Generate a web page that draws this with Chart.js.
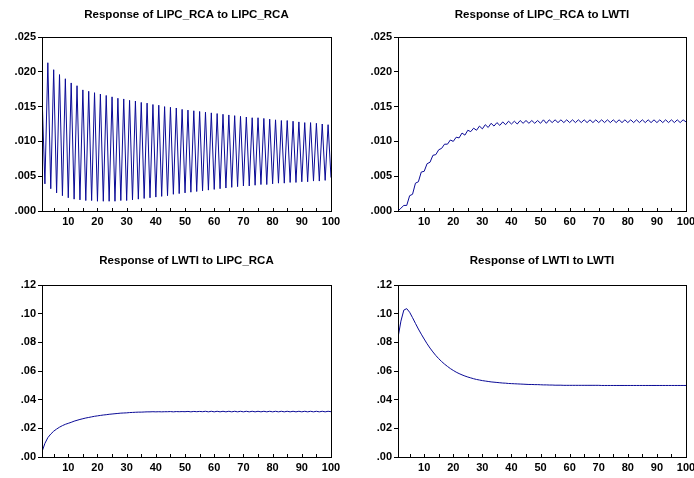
<!DOCTYPE html>
<html>
<head>
<meta charset="utf-8">
<script src="https://cdn.jsdelivr.net/npm/chart.js@4/dist/chart.umd.min.js"></script>
<style>
  body { margin: 0; background: #fff; }
  #wrap { position: relative; width: 694px; height: 478px; }
  canvas { position: absolute; }
</style>
</head>
<body>
<div id="wrap">
  <canvas id="c1" width="347" height="239" style="left:0;top:0"></canvas>
  <canvas id="c2" width="347" height="239" style="left:347px;top:0"></canvas>
  <canvas id="c3" width="347" height="239" style="left:0;top:239px"></canvas>
  <canvas id="c4" width="347" height="239" style="left:347px;top:239px"></canvas>
</div>
<script>
// === DATA ===
const periods = Array.from({ length: 100 }, (_, i) => i + 1);

const xTicks = [5, 10, 15, 20, 25, 30, 35, 40, 45, 50, 55, 60, 65, 70, 75, 80, 85, 90, 95, 100];
const xLabels = ["", "10", "", "20", "", "30", "", "40", "", "50", "", "60", "", "70", "", "80", "", "90", "", "100"];

const topYTicks = [0, 0.005, 0.010, 0.015, 0.020, 0.025];
const topYLabels = [".000", ".005", ".010", ".015", ".020", ".025"];
const botYTicks = [0, 0.02, 0.04, 0.06, 0.08, 0.10, 0.12];
const botYLabels = [".00", ".02", ".04", ".06", ".08", ".10", ".12"];

const titles = [
  "Response of LIPC_RCA to LIPC_RCA",
  "Response of LIPC_RCA to LWTI",
  "Response of LWTI to LIPC_RCA",
  "Response of LWTI to LWTI"
];

// LIPC_RCA -> LIPC_RCA
const rcaToRca = [
  0.0167, 0.0039, 0.0213, 0.0032, 0.0203, 0.0026, 0.0196, 0.0022, 0.0190, 0.0019,
  0.0184, 0.0017, 0.0180, 0.0016, 0.0174, 0.0015, 0.0172, 0.0015, 0.0170, 0.0014,
  0.0168, 0.0014, 0.0166, 0.0014, 0.0164, 0.0014, 0.0162, 0.0015, 0.0161, 0.0015,
  0.0159, 0.0016, 0.0158, 0.0017, 0.0156, 0.0018, 0.0155, 0.0019, 0.0153, 0.0020,
  0.0152, 0.0021, 0.0150, 0.0022, 0.0149, 0.0024, 0.0148, 0.0025, 0.0146, 0.0026,
  0.0145, 0.0027, 0.0144, 0.0028, 0.0143, 0.0029, 0.0142, 0.0030, 0.0141, 0.0031,
  0.0140, 0.0032, 0.0139, 0.0033, 0.0138, 0.0034, 0.0137, 0.0035, 0.0136, 0.0036,
  0.0135, 0.0036, 0.0134, 0.0037, 0.0134, 0.0038, 0.0133, 0.0038, 0.0132, 0.0039,
  0.0131, 0.0040, 0.0130, 0.0040, 0.0130, 0.0041, 0.0129, 0.0041, 0.0128, 0.0042,
  0.0127, 0.0042, 0.0127, 0.0043, 0.0126, 0.0043, 0.0125, 0.0044, 0.0124, 0.0048
];

// LIPC_RCA -> LWTI
const rcaToWti = [
  0.0000, 0.0004, 0.0008, 0.0008, 0.0022, 0.0024, 0.0040, 0.0042, 0.0056, 0.0057,
  0.0068, 0.0070, 0.0080, 0.0081, 0.0088, 0.0090, 0.0096, 0.0096, 0.0102, 0.0100,
  0.0106, 0.0105, 0.0112, 0.0109, 0.0116, 0.0114, 0.0119, 0.0116, 0.0122, 0.0118,
  0.0124, 0.0120, 0.0126, 0.0122, 0.0127, 0.0123, 0.0128, 0.0124, 0.0129, 0.0125,
  0.0129, 0.0125, 0.0130, 0.0126, 0.0130, 0.0126, 0.0130, 0.0126, 0.0130, 0.0126,
  0.0131, 0.0126, 0.0131, 0.0127, 0.0131, 0.0127, 0.0131, 0.0127, 0.0131, 0.0127,
  0.0131, 0.0127, 0.0131, 0.0127, 0.0131, 0.0127, 0.0131, 0.0127, 0.0131, 0.0127,
  0.0131, 0.0127, 0.0131, 0.0127, 0.0131, 0.0127, 0.0131, 0.0127, 0.0131, 0.0127,
  0.0131, 0.0127, 0.0131, 0.0127, 0.0131, 0.0127, 0.0131, 0.0127, 0.0131, 0.0127,
  0.0131, 0.0127, 0.0131, 0.0127, 0.0131, 0.0127, 0.0131, 0.0127, 0.0131, 0.0128
];

// LWTI -> LIPC_RCA
const wtiToRca = [
  0.0037, 0.0095, 0.0135, 0.0160, 0.0180, 0.0195, 0.0208, 0.0219, 0.0228, 0.0235,
  0.0242, 0.0250, 0.0256, 0.0262, 0.0267, 0.0272, 0.0276, 0.0280, 0.0284, 0.0287,
  0.0290, 0.0293, 0.0295, 0.0298, 0.0300, 0.0302, 0.0304, 0.0306, 0.0307, 0.0308,
  0.0310, 0.0311, 0.0312, 0.0313, 0.0313, 0.0314, 0.0315, 0.0315, 0.0316, 0.0315,
  0.0316, 0.0315, 0.0316, 0.0316, 0.0317, 0.0315, 0.0317, 0.0316, 0.0317, 0.0316,
  0.0318, 0.0315, 0.0318, 0.0316, 0.0318, 0.0316, 0.0319, 0.0315, 0.0319, 0.0315,
  0.0319, 0.0315, 0.0319, 0.0315, 0.0319, 0.0315, 0.0319, 0.0315, 0.0319, 0.0315,
  0.0319, 0.0315, 0.0319, 0.0315, 0.0319, 0.0315, 0.0319, 0.0315, 0.0319, 0.0315,
  0.0319, 0.0315, 0.0319, 0.0315, 0.0319, 0.0315, 0.0319, 0.0315, 0.0319, 0.0315,
  0.0319, 0.0315, 0.0319, 0.0315, 0.0319, 0.0315, 0.0319, 0.0315, 0.0319, 0.0316
];

// LWTI -> LWTI
const wtiToWti = [
  0.0833, 0.0948, 0.1025, 0.1035, 0.1010, 0.0972, 0.0932, 0.0893, 0.0857, 0.0823,
  0.0790, 0.0760, 0.0733, 0.0708, 0.0686, 0.0666, 0.0648, 0.0632, 0.0617, 0.0604,
  0.0592, 0.0582, 0.0573, 0.0565, 0.0558, 0.0552, 0.0546, 0.0541, 0.0537, 0.0533,
  0.0530, 0.0527, 0.0524, 0.0522, 0.0520, 0.0518, 0.0516, 0.0515, 0.0513, 0.0512,
  0.0511, 0.0510, 0.0509, 0.0508, 0.0507, 0.0506, 0.0506, 0.0505, 0.0505, 0.0504,
  0.0503, 0.0503, 0.0502, 0.0502, 0.0501, 0.0501, 0.0501, 0.0500, 0.0500, 0.0500,
  0.0500, 0.0500, 0.0500, 0.0500, 0.0500, 0.0500, 0.0500, 0.0500, 0.0500, 0.0500,
  0.0499, 0.0499, 0.0499, 0.0499, 0.0499, 0.0499, 0.0499, 0.0499, 0.0499, 0.0499,
  0.0499, 0.0499, 0.0499, 0.0499, 0.0499, 0.0499, 0.0499, 0.0499, 0.0499, 0.0499,
  0.0499, 0.0499, 0.0499, 0.0499, 0.0499, 0.0499, 0.0499, 0.0499, 0.0499, 0.0499
];

// === STYLE ===
const LINE_COLOR = "#0a0a96";
const FONT = "'Liberation Sans', Arial, sans-serif";

// box around plot, short inward ticks on x axis, title centred over the plot
const framePlugin = {
  id: "frame",
  afterDraw(chart, args, opts) {
    const { ctx, chartArea: a, scales } = chart;
    ctx.save();
    ctx.strokeStyle = "#000";
    ctx.lineWidth = 1;
    ctx.strokeRect(Math.round(a.left) + 0.5, Math.round(a.top) + 0.5,
      Math.round(a.right - a.left), Math.round(a.bottom - a.top));
    ctx.beginPath();
    xTicks.forEach(v => {
      const x = Math.round(scales.x.getPixelForValue(v)) + 0.5;
      ctx.moveTo(x, a.bottom);
      ctx.lineTo(x, a.bottom - 3);
    });
    ctx.stroke();

    ctx.fillStyle = "#000";
    ctx.font = "bold 11.5px " + FONT;
    ctx.textAlign = "center";
    ctx.textBaseline = "middle";
    ctx.fillText(opts.text, (a.left + a.right) / 2, opts.y);
    ctx.restore();
  }
};

function makePanel(id, title, values, yTicks, yLabels, box) {
  return new Chart(document.getElementById(id), {
    type: "line",
    data: {
      datasets: [{
        data: periods.map((p, i) => ({ x: p, y: values[i] })),
        borderColor: LINE_COLOR,
        borderWidth: 1,
        pointRadius: 0,
        tension: 0
      }]
    },
    options: {
      responsive: false,
      animation: false,
      layout: { padding: { left: 0, right: box.right, top: box.top, bottom: 0 } },
      plugins: {
        legend: { display: false },
        tooltip: { enabled: false },
        title: { display: false },
        frame: { text: title, y: box.titleY }
      },
      scales: {
        x: {
          type: "linear",
          min: 1,
          max: 100,
          afterBuildTicks: s => { s.ticks = xTicks.map(v => ({ value: v })); },
          afterFit: s => { s.height = box.xHeight; s.paddingLeft = 0; s.paddingRight = 0; },
          ticks: {
            autoSkip: false,
            maxRotation: 0,
            padding: 4,
            color: "#000",
            font: { family: FONT, size: 11, weight: "bold" },
            callback: (v, i) => xLabels[i]
          },
          grid: { display: false, drawTicks: false, tickLength: 0 },
          border: { display: false }
        },
        y: {
          min: yTicks[0],
          max: yTicks[yTicks.length - 1],
          afterBuildTicks: s => { s.ticks = yTicks.map(v => ({ value: v })); },
          afterFit: s => { s.width = box.yWidth; },
          ticks: {
            padding: 2,
            color: "#000",
            font: { family: FONT, size: 11, weight: "bold" },
            callback: (v, i) => yLabels[i]
          },
          grid: { drawOnChartArea: false, tickLength: 4, color: "#000" },
          border: { display: false }
        }
      }
    },
    plugins: [framePlugin]
  });
}

const topBox = { top: 37, titleY: 15, xHeight: 28 };
const botBox = { top: 46, titleY: 22, xHeight: 21 };

makePanel("c1", titles[0], rcaToRca, topYTicks, topYLabels, { ...topBox, yWidth: 42, right: 16 });
makePanel("c2", titles[1], rcaToWti, topYTicks, topYLabels, { ...topBox, yWidth: 51, right: 8 });
makePanel("c3", titles[2], wtiToRca, botYTicks, botYLabels, { ...botBox, yWidth: 42, right: 16 });
makePanel("c4", titles[3], wtiToWti, botYTicks, botYLabels, { ...botBox, yWidth: 51, right: 8 });
</script>
</body>
</html>
